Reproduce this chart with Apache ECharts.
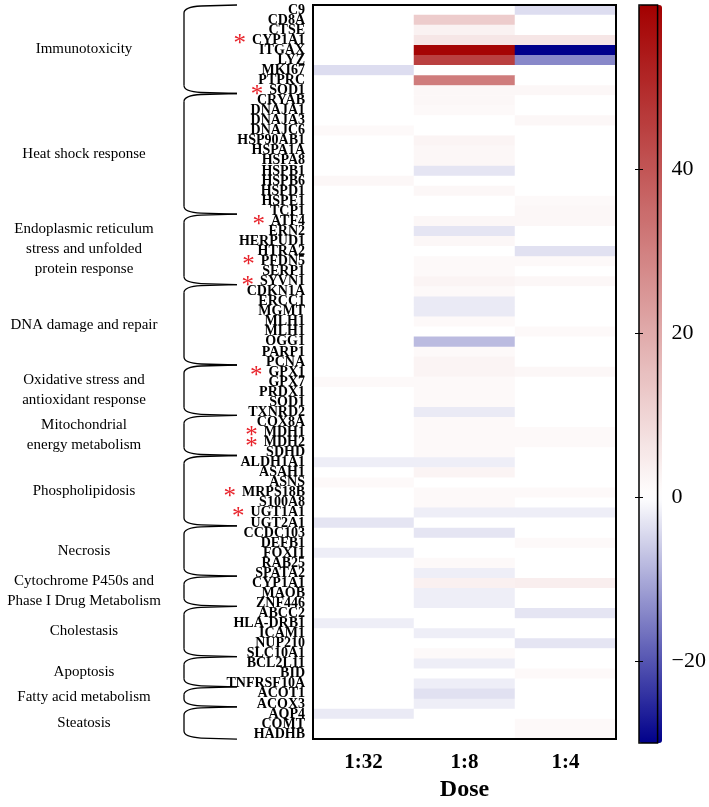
<!DOCTYPE html>
<html><head><meta charset="utf-8">
<script src="https://cdn.jsdelivr.net/npm/echarts@6/dist/echarts.min.js"></script>
<style>html,body{margin:0;padding:0;background:#fff}#c{width:709px;height:807px}</style>
</head><body><div id="c"></div>
<script>
const genes = ['C9','CD8A','CTSE','CYP1A1','ITGAX','LYZ','MKI67','PTPRC','SOD1','CRYAB','DNAJA1','DNAJA3','DNAJC6','HSP90AB1','HSPA1A','HSPA8','HSPB1','HSPB6','HSPD1','HSPE1','TCP1','ATF4','ERN2','HERPUD1','HTRA2','PFDN5','SERP1','SYVN1','CDKN1A','ERCC1','MGMT','MLH1','MLH1','OGG1','PARP1','PCNA','GPX1','GPX7','PRDX1','SOD1','TXNRD2','COX8A','MDH1','MDH2','SDHD','ALDH1A1','ASAH1','ASNS','MRPS18B','S100A8','UGT1A1','UGT2A1','CCDC103','DEFB1','FOXI1','RAB25','SPATA2','CYP1A1','MAOB','ZNF446','ABCC2','HLA-DRB1','ICAM1','NUP210','SLC10A1','BCL2L11','BID','TNFRSF10A','ACOT1','ACOX3','AQP4','COMT','HADHB'];
const doses = ['1:32','1:8','1:4'];
const dose132 = [0,0,0,0,0,0,-4,0,0,0,0,0,1.5,0,0,0,0,2,0,0,0,0,0,0,0,0,0,0,0,0,0,0,0,0,0,0,0,1.5,0,0,0,0,0,0,0,-2,0,1.5,0,0,0,-3,0,0,-2,0,0,0,0,0,0,-2,0,0,0,0,0,0,0,0,-2.5,0,0];
const dose18 = [0,12,3,6,59,45,0,31,2,2,1.5,0,0,2.5,2,2,-3,0,2,0,0,2,-3,2,0,1.5,1.5,2.5,1.5,-2.5,-2.5,1.5,0,-8,1.5,2.5,2.5,1.5,1.5,1.5,-2.5,1.5,1.5,1.5,1.5,-2,2.5,0,1.5,1.5,-2,0,-3,0,0,1.5,-2,3.5,-2,-2,0,0,-2,0,1.5,-2,0,-2,-3.5,-2,0,0,0];
const dose14 = [-4,0,0,6,-30,-14,0,0,2,0,0,2,0,0,0,0,0,0,0,1.5,2,2,0,0,-3.5,1.5,0,2,0,0,0,0,1.5,0,0,0,2,0,0,0,0,0,1.5,1.5,0,0,0,0,1.5,0,-2,0,0,1.5,0,0,0,4,0,0,-3,0,0,-3,0,0,1.5,0,0,0,0,1.5,1.5];
const starred = [3, 8, 21, 25, 27, 36, 42, 43, 48, 50];
const groups = [
  {name:'Immunotoxicity', first:0, last:8},
  {name:'Heat shock response', first:9, last:20},
  {name:'Endoplasmic reticulum\nstress and unfolded\nprotein response', first:21, last:27},
  {name:'DNA damage and repair', first:28, last:35},
  {name:'Oxidative stress and\nantioxidant response', first:36, last:40},
  {name:'Mitochondrial\nenergy metabolism', first:41, last:44},
  {name:'Phospholipidosis', first:45, last:51},
  {name:'Necrosis', first:52, last:56},
  {name:'Cytochrome P450s and\nPhase I Drug Metabolism', first:57, last:59},
  {name:'Cholestasis', first:60, last:64},
  {name:'Apoptosis', first:65, last:67},
  {name:'Fatty acid metabolism', first:68, last:69},
  {name:'Steatosis', first:70, last:72}
];
const colorbarTicks = [-20, 0, 20, 40];
const colorMin = -30, colorMax = 60;

const cols = [dose132, dose18, dose14];
const data = [];
genes.forEach((g, i) => cols.forEach((arr, j) => data.push([j, i, arr[i]])));

const serif = 'Liberation Serif';
const chart = echarts.init(document.getElementById('c'));
chart.setOption({
  animation: false,
  backgroundColor: '#fff',
  grid: [
    {left: 313, top: 5, width: 303, height: 738, show: true, borderColor: '#000', borderWidth: 2, backgroundColor: 'transparent', z: 5},
    {left: 639, top: 5, width: 23, height: 738, show: true, borderColor: '#000', borderWidth: 1.5, backgroundColor: 'transparent', z: 10}
  ],
  xAxis: [
    {type: 'category', data: doses, gridIndex: 0, z: 6,
     axisLine: {lineStyle: {color: '#000', width: 2}},
     axisTick: {alignWithLabel: true, length: 6, lineStyle: {color: '#000', width: 2}},
     axisLabel: {color: '#000', fontFamily: serif, fontWeight: 'bold', fontSize: 21, margin: 13},
     name: 'Dose', nameLocation: 'middle', nameGap: 35,
     nameTextStyle: {color: '#000', fontFamily: serif, fontWeight: 'bold', fontSize: 24}},
    {type: 'value', gridIndex: 1, show: false, min: 0, max: 1}
  ],
  yAxis: [
    {type: 'category', data: genes, inverse: true, gridIndex: 0, z: 6,
     axisLine: {lineStyle: {color: '#000', width: 2}},
     axisTick: {alignWithLabel: true, interval: 0, length: 5, lineStyle: {color: '#000', width: 1.5}},
     axisLabel: {interval: 0, color: '#000', fontFamily: serif, fontWeight: 'bold', fontSize: 14, margin: 8,
       formatter: (v, idx) => starred.indexOf(idx) >= 0 ? '{s|*}' + v : v,
       rich: {s: {color: '#e8232b', fontFamily: serif, fontWeight: 'normal', fontSize: 25, padding: [9, 6, 0, 0]}}}},
    {type: 'value', gridIndex: 1, position: 'right', min: colorMin, max: colorMax, z: 11,
     axisLine: {show: false}, splitLine: {show: false},
     axisTick: {show: true, inside: true, length: 4, customValues: colorbarTicks, lineStyle: {color: '#000', width: 1}},
     axisLabel: {customValues: colorbarTicks, color: '#000', fontFamily: serif, fontSize: 22, margin: 14,
       formatter: v => String(v).replace('-', '\u2212')}},
    {type: 'value', gridIndex: 1, position: 'left', min: colorMin, max: colorMax, z: 11,
     axisLine: {show: false}, splitLine: {show: false},
     axisTick: {show: true, inside: true, length: 4, customValues: colorbarTicks, lineStyle: {color: '#000', width: 1}},
     axisLabel: {show: false}}
  ],
  visualMap: {
    type: 'continuous', min: colorMin, max: colorMax, dimension: 2, seriesIndex: 0,
    calculable: false, hoverLink: false, orient: 'vertical', left: 639, top: 5, padding: 0,
    itemWidth: 23, itemHeight: 738,
    inRange: {color: ['#00008b', '#ffffff', '#d18080', '#a30000']}
  },
  series: [{
    type: 'heatmap', xAxisIndex: 0, yAxisIndex: 0, data: data,
    itemStyle: {borderWidth: 0}, emphasis: {disabled: true}, progressive: 0
  }]
});

// Brackets and group labels positioned via the category axis
const y0 = chart.convertToPixel({yAxisIndex: 0}, 0);
const y1 = chart.convertToPixel({yAxisIndex: 0}, 1);
const step = y1 - y0;
const rowY = r => y0 + r * step;
const graphics = [];
const xl = 184, xc = 201, xe = 237;
const ls = {stroke: '#000', lineWidth: 1.3, fill: null};
groups.forEach((g, k) => {
  const top = k === 0 ? rowY(g.first - 0.5) : rowY(groups[k - 1].last + 0.3);
  const bot = k === groups.length - 1 ? rowY(g.last + 0.5) : rowY(g.last + 0.3);
  const r = 8;
  graphics.push({type: 'line', silent: true, shape: {x1: xe, y1: top, x2: xc, y2: top + 1}, style: ls});
  graphics.push({type: 'bezierCurve', silent: true, shape: {x1: xc, y1: top + 1, cpx1: xl, cpy1: top + 2, x2: xl, y2: top + r}, style: ls});
  graphics.push({type: 'line', silent: true, shape: {x1: xl, y1: top + r, x2: xl, y2: bot - r}, style: ls});
  graphics.push({type: 'bezierCurve', silent: true, shape: {x1: xl, y1: bot - r, cpx1: xl, cpy1: bot - 2, x2: xc, y2: bot - 1}, style: ls});
  graphics.push({type: 'line', silent: true, shape: {x1: xc, y1: bot - 1, x2: xe, y2: bot}, style: ls});
  graphics.push({type: 'text', x: 84, y: (top + bot) / 2, silent: true,
    style: {text: g.name, align: 'center', verticalAlign: 'middle', fontFamily: serif, fontSize: 15, lineHeight: 20, fill: '#000'}});
});
chart.setOption({graphic: graphics});
</script>
</body></html>
